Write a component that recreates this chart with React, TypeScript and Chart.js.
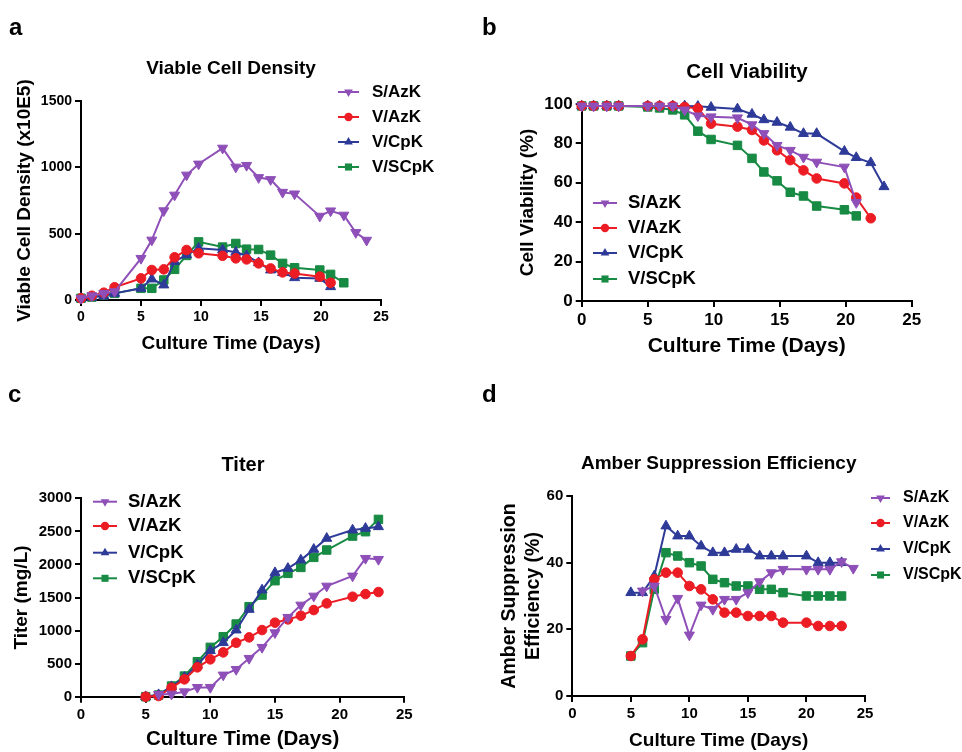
import React, { useEffect, useRef } from 'react';
import { Chart, registerables } from 'chart.js';

Chart.register(...registerables);

const FONT = "'Liberation Sans', Arial, Helvetica, sans-serif";

const seriesNames = ['S/AzK', 'V/AzK', 'V/CpK', 'V/SCpK'];
const seriesColors = ['#8E4FB8', '#EC1C24', '#2E3A98', '#178A43'];
const seriesMarkers = ['triangleDown', 'circle', 'triangle', 'rect'];

const xTickMax = 25;
const xTickStep = 5;

// ---- Panel a: Viable Cell Density ----
const vcdDays = [0, 0.9, 1.9, 2.8, 5, 5.9, 6.9, 7.8, 8.8, 9.8, 11.8, 12.9, 13.8, 14.8, 15.8, 16.8, 17.8, 19.9, 20.8, 21.9, 22.9, 23.8];
const vcdSAzK = [13, 32, 50, 63, 314, 452, 673, 791, 942, 1025, 1145, 1002, 1015, 923, 908, 812, 800, 632, 672, 640, 509, 451];
const vcdVAzK = [13, 32, 55, 96, 163, 226, 231, 322, 377, 352, 333, 314, 306, 276, 238, 208, 200, 176, 130, null, null, null];
const vcdVCpK = [13, 20, 30, 50, 88, 158, 113, 289, 340, 390, 377, 360, 334, 281, 226, 206, 168, 163, 100, null, null, null];
const vcdVSCpK = [13, 22, 38, 50, 88, 88, 151, 231, 336, 438, 399, 426, 383, 381, 338, 276, 243, 226, 193, 130, null, null];
const vcdYTicks = { max: 1500, step: 500 };

// ---- Panel b: Cell Viability ----
const viaDays = [0, 0.9, 1.9, 2.8, 5, 5.9, 6.9, 7.8, 8.8, 9.8, 11.8, 12.9, 13.8, 14.8, 15.8, 16.8, 17.8, 19.9, 20.8, 21.9, 22.9];
const viaSAzK = [99, 99, 99, 99, 99, 99, 99, 97, 94, 93.5, 93, 89.5, 85, 79, 76.5, 73, 70.5, 68, 50, null, null];
const viaVAzK = [99, 99, 99, 99, 99, 99, 99, 98.5, 97.8, 90, 88.5, 86.8, 81.5, 76.5, 71.5, 66.3, 62.2, 59.7, 52.5, 42, null];
const viaVCpK = [99, 99, 99, 99, 99, 99, 99, 99, 98.8, 98.3, 97.5, 94.8, 92, 90.7, 88.2, 85, 85, 76, 72.8, 70.2, 58];
const viaVSCpK = [99, 99, 99, 99, 98.5, 98, 97, 94.5, 86.2, 82, 79, 72.4, 65.5, 61, 55.2, 53.3, 48.2, 46.3, 43.2, null, null];
const viaYTicks = { max: 100, step: 20 };

// ---- Panel c: Titer ----
const titerDays = [5, 6, 7, 8, 9, 10, 11, 12, 13, 14, 15, 16, 17, 18, 19, 21, 22, 23];
const titerSAzK = [null, 35, 40, 75, 141, 141, 328, 413, 580, 746, 968, 1200, 1386, 1522, 1673, 1825, 2092, 2077];
const titerVAzK = [0, 10, 136, 262, 444, 565, 670, 816, 897, 1008, 1119, 1169, 1225, 1310, 1411, 1512, 1552, 1583];
const titerVCpK = [0, 30, 151, 292, 479, 696, 817, 1008, 1320, 1613, 1875, 1940, 2066, 2228, 2394, 2520, 2545, 2570];
const titerVSCpK = [0, 25, 161, 312, 529, 746, 907, 1099, 1361, 1537, 1754, 1865, 1955, 2107, 2218, 2429, 2495, 2681];
const titerYTicks = { max: 3000, step: 500 };

// ---- Panel d: Amber Suppression Efficiency ----
const aseDays = [5, 6, 7, 8, 9, 10, 11, 12, 13, 14, 15, 16, 17, 18, 20, 21, 22, 23, 24];
const aseSAzK = [null, 31.5, 33, 23, 29.3, 18.3, 27.3, 26, 29, 29, 31, 34.3, 37, 38, 38, 38, 38, 40.3, 38.3];
const aseVAzK = [12, 17, 35, 37, 37, 33, 32, 29, 25, 25, 24, 24, 24, 22, 22, 21, 21, 21, null];
const aseVCpK = [31, 31, 36, 51, 48, 48, 45, 43, 43, 44, 44, 42, 42, 42, 42, 40, 40, 40, null];
const aseVSCpK = [12, 16, 32, 43, 42, 40, 39, 35, 34, 33, 33, 32, 32, 31, 30, 30, 30, 30, null];
const aseYTicks = { max: 60, step: 20 };

function toPoints(days: number[], vals: (number | null)[]) {
  const out: { x: number; y: number }[] = [];
  days.forEach((d, i) => {
    const v = vals[i];
    if (v !== null && v !== undefined) out.push({ x: d, y: v });
  });
  return out;
}

function drawMarker(ctx: CanvasRenderingContext2D, kind: string, x: number, y: number, r: number, color: string) {
  ctx.fillStyle = color;
  ctx.beginPath();
  if (kind === 'circle') {
    ctx.arc(x, y, r, 0, Math.PI * 2);
  } else if (kind === 'rect') {
    const s = r * Math.SQRT2;
    ctx.rect(x - s / 2, y - s / 2, s, s);
  } else {
    const start = kind === 'triangle' ? 0 : Math.PI;
    for (let k = 0; k < 3; k++) {
      const a = start + (k * 2 * Math.PI) / 3;
      const px = x + Math.sin(a) * r;
      const py = y - Math.cos(a) * r;
      if (k === 0) ctx.moveTo(px, py);
      else ctx.lineTo(px, py);
    }
    ctx.closePath();
  }
  ctx.fill();
}

const markerRadius: Record<string, number> = { circle: 4.8, rect: 6, triangle: 5.8, triangleDown: 5.8 };
const legendMarkerRadius: Record<string, number> = { circle: 4.2, rect: 5, triangle: 5, triangleDown: 5 };

type Spec = {
  left: number; top: number;
  letter: string; letterX: number; letterY: number;
  title: string; titleX: number; titleY: number; titleSize: number;
  padding: { left: number; right: number; top: number; bottom: number };
  yWidth: number; xHeight: number;
  yTicks: { max: number; step: number };
  yTitle: string | string[]; yTitlePad: number; yTitleSize: number; yTitleLH: number | string;
  xTitleSize: number; tickSize: number;
  legend: { x1: number; x2: number; tx: number; ys: number[]; size: number };
  days: number[]; series: (number | null)[][];
};

const W = 481;
const H = 376;

const specs: Spec[] = [
  {
    left: 0, top: 0, letter: 'a', letterX: 9, letterY: 35,
    title: 'Viable Cell Density', titleX: 231, titleY: 69, titleSize: 19,
    padding: { left: 0, right: 100, top: 101, bottom: 21 }, yWidth: 81, xHeight: 55,
    yTicks: vcdYTicks, yTitle: 'Viable Cell Density (x10E5)', yTitlePad: 13.6, yTitleSize: 19, yTitleLH: 1.2,
    xTitleSize: 19, tickSize: 14,
    legend: { x1: 338, x2: 359, tx: 372, ys: [92, 117, 142, 167], size: 17 },
    days: vcdDays, series: [vcdSAzK, vcdVAzK, vcdVCpK, vcdVSCpK],
  },
  {
    left: 481, top: 0, letter: 'b', letterX: 1, letterY: 35,
    title: 'Cell Viability', titleX: 266, titleY: 72, titleSize: 20.5,
    padding: { left: 0, right: 50.3, top: 104, bottom: 17 }, yWidth: 100.7, xHeight: 58,
    yTicks: viaYTicks, yTitle: 'Cell Viability (%)', yTitlePad: 35, yTitleSize: 19, yTitleLH: 1.2,
    xTitleSize: 21, tickSize: 17,
    legend: { x1: 112, x2: 136, tx: 147, ys: [203, 228, 253, 279], size: 18.5 },
    days: viaDays, series: [viaSAzK, viaVAzK, viaVCpK, viaVSCpK],
  },
  {
    left: 0, top: 376, letter: 'c', letterX: 8, letterY: 26,
    title: 'Titer', titleX: 243, titleY: 89, titleSize: 20,
    padding: { left: 0, right: 76.7, top: 122.3, bottom: 0 }, yWidth: 81, xHeight: 55.3,
    yTicks: titerYTicks, yTitle: 'Titer (mg/L)', yTitlePad: 10.3, yTitleSize: 19, yTitleLH: 1.2,
    xTitleSize: 20.5, tickSize: 15,
    legend: { x1: 93, x2: 117, tx: 128, ys: [125.7, 150, 176.7, 202.3], size: 18.5 },
    days: titerDays, series: [titerSAzK, titerVAzK, titerVCpK, titerVSCpK],
  },
  {
    left: 481, top: 376, letter: 'd', letterX: 1, letterY: 26,
    title: 'Amber Suppression Efficiency', titleX: 237.7, titleY: 87.3, titleSize: 19,
    padding: { left: 0, right: 97, top: 120, bottom: 0 }, yWidth: 91.3, xHeight: 56,
    yTicks: aseYTicks, yTitle: ['Amber Suppression', 'Efficiency (%)'], yTitlePad: 16.3, yTitleSize: 19.5, yTitleLH: '24px',
    xTitleSize: 19, tickSize: 15,
    legend: { x1: 390, x2: 409, tx: 422, ys: [122, 147, 173, 199], size: 16 },
    days: aseDays, series: [aseSAzK, aseVAzK, aseVCpK, aseVSCpK],
  },
];

function makeDecor(spec: Spec) {
  return {
    id: 'decor',
    afterDraw(chart: Chart) {
      const ctx = chart.ctx;
      ctx.save();
      ctx.fillStyle = '#000';
      ctx.font = `bold 24px ${FONT}`;
      ctx.textAlign = 'left';
      ctx.textBaseline = 'alphabetic';
      ctx.fillText(spec.letter, spec.letterX, spec.letterY);

      ctx.font = `bold ${spec.titleSize}px ${FONT}`;
      ctx.textAlign = 'center';
      ctx.textBaseline = 'middle';
      ctx.fillText(spec.title, spec.titleX, spec.titleY);

      const lg = spec.legend;
      seriesNames.forEach((name, i) => {
        const y = lg.ys[i];
        const c = seriesColors[i];
        ctx.strokeStyle = c;
        ctx.lineWidth = 2;
        ctx.beginPath();
        ctx.moveTo(lg.x1, y);
        ctx.lineTo(lg.x2, y);
        ctx.stroke();
        drawMarker(ctx, seriesMarkers[i], (lg.x1 + lg.x2) / 2, y, legendMarkerRadius[seriesMarkers[i]], c);
        ctx.fillStyle = '#000';
        ctx.font = `bold ${lg.size}px ${FONT}`;
        ctx.textAlign = 'left';
        ctx.textBaseline = 'middle';
        ctx.fillText(name, lg.tx, y);
      });
      ctx.restore();
    },
  };
}

function buildConfig(spec: Spec): any {
  const datasets = seriesNames.map((name, i) => {
    const kind = seriesMarkers[i];
    return {
      label: name,
      data: toPoints(spec.days, spec.series[i]),
      borderColor: seriesColors[i],
      backgroundColor: seriesColors[i],
      borderWidth: 2,
      pointStyle: kind === 'triangleDown' ? 'triangle' : kind,
      pointRotation: kind === 'triangleDown' ? 180 : 0,
      pointRadius: markerRadius[kind],
      pointHoverRadius: markerRadius[kind],
      pointBorderWidth: 1,
      tension: 0,
      clip: false,
    };
  });
  const tickFont = { family: FONT, size: spec.tickSize, weight: 'bold' as const };
  const plainLabel = (v: any) => String(v);
  const axisCommon = {
    grid: { display: true, drawOnChartArea: false, drawTicks: true, tickLength: 6, color: '#000', lineWidth: 2 },
    border: { display: true, color: '#000', width: 2 },
  };
  return {
    type: 'line',
    data: { datasets },
    options: {
      responsive: false,
      animation: false,
      events: [],
      layout: { padding: spec.padding },
      plugins: { legend: { display: false }, title: { display: false }, tooltip: { enabled: false } },
      scales: {
        x: {
          type: 'linear',
          position: 'bottom',
          min: 0,
          max: xTickMax,
          ticks: { stepSize: xTickStep, color: '#000', font: tickFont, padding: 3, maxRotation: 0, callback: plainLabel },
          ...axisCommon,
          title: {
            display: true,
            text: 'Culture Time (Days)',
            color: '#000',
            font: { family: FONT, size: spec.xTitleSize, weight: 'bold' },
            padding: { top: 0, bottom: 0 },
          },
          afterFit: (s: any) => { s.height = spec.xHeight; },
        },
        y: {
          type: 'linear',
          position: 'left',
          min: 0,
          max: spec.yTicks.max,
          ticks: { stepSize: spec.yTicks.step, color: '#000', font: tickFont, padding: 3, callback: plainLabel },
          ...axisCommon,
          title: {
            display: true,
            text: spec.yTitle,
            color: '#000',
            font: { family: FONT, size: spec.yTitleSize, weight: 'bold', lineHeight: spec.yTitleLH },
            padding: { top: spec.yTitlePad, bottom: 0 },
          },
          afterFit: (s: any) => { s.width = spec.yWidth; },
        },
      },
    },
    plugins: [makeDecor(spec)],
  };
}

function Panel({ spec }: { spec: Spec }) {
  const ref = useRef<HTMLCanvasElement>(null);
  useEffect(() => {
    if (!ref.current) return;
    const chart = new Chart(ref.current, buildConfig(spec));
    return () => chart.destroy();
  }, [spec]);
  return (
    <canvas
      ref={ref}
      width={W}
      height={H}
      style={{ position: 'absolute', left: spec.left, top: spec.top, width: W, height: H, display: 'block' }}
    />
  );
}

export default function App() {
  return (
    <div style={{ position: 'absolute', left: 0, top: 0, width: 962, height: 752, background: '#fff', overflow: 'hidden' }}>
      {specs.map((s) => (
        <Panel key={s.letter} spec={s} />
      ))}
    </div>
  );
}
